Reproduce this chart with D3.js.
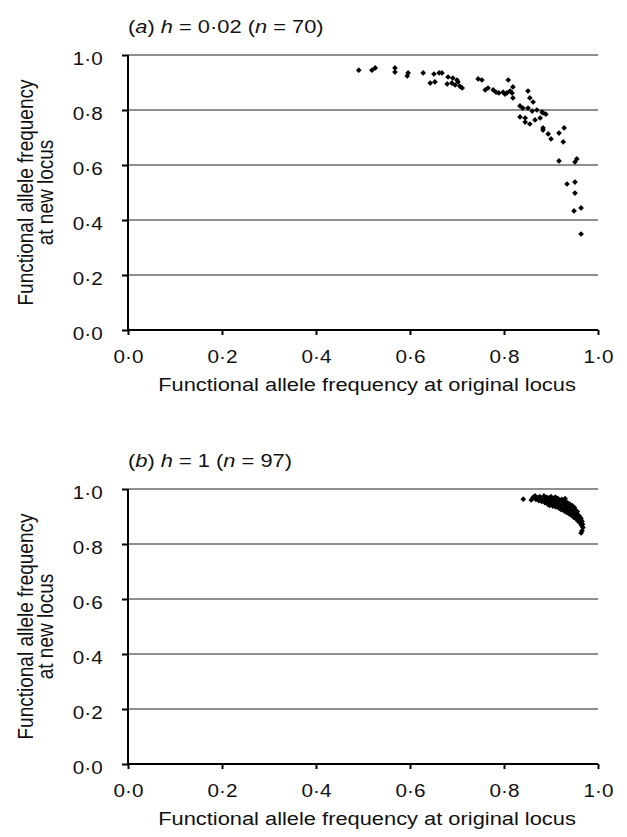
<!DOCTYPE html>
<html>
<head>
<meta charset="utf-8">
<script src="https://cdn.jsdelivr.net/npm/d3@7"></script>
<style>
  body { margin: 0; background: #fff; }
  svg text { font-family: "Liberation Sans", Arial, sans-serif; fill: #111; }
</style>
</head>
<body>
<svg id="chart" width="627" height="837"></svg>
<script>
// tick values shared by both panels
const tickValues = [0, 0.2, 0.4, 0.6, 0.8, 1.0];

// panel (a): h = 0.02, n = 70  [original locus, new locus]
const panelAOriginal = [0.491, 0.519, 0.526, 0.568, 0.568, 0.596, 0.594, 0.628, 0.651, 0.662,
  0.643, 0.653, 0.668, 0.681, 0.691, 0.700, 0.702, 0.679, 0.689, 0.696,
  0.711, 0.745, 0.753, 0.760, 0.777, 0.783, 0.789, 0.798, 0.802, 0.809,
  0.819, 0.813, 0.806, 0.817, 0.819, 0.851, 0.855, 0.862, 0.834, 0.840,
  0.851, 0.860, 0.870, 0.881, 0.883, 0.889, 0.834, 0.845, 0.845, 0.866,
  0.877, 0.855, 0.883, 0.883, 0.894, 0.900, 0.917, 0.928, 0.926, 0.917,
  0.951, 0.955, 0.934, 0.951, 0.951, 0.949, 0.964, 0.964, 0.706, 0.766];
const panelANew = [0.945, 0.945, 0.953, 0.953, 0.938, 0.935, 0.924, 0.935, 0.931, 0.935,
  0.898, 0.902, 0.935, 0.920, 0.916, 0.909, 0.902, 0.895, 0.898, 0.891,
  0.880, 0.913, 0.909, 0.873, 0.873, 0.865, 0.862, 0.865, 0.858, 0.909,
  0.884, 0.869, 0.862, 0.862, 0.844, 0.869, 0.844, 0.829, 0.815, 0.807,
  0.807, 0.796, 0.800, 0.793, 0.789, 0.785, 0.775, 0.771, 0.756, 0.764,
  0.771, 0.749, 0.735, 0.727, 0.713, 0.695, 0.716, 0.735, 0.684, 0.615,
  0.611, 0.622, 0.531, 0.538, 0.498, 0.433, 0.444, 0.349, 0.887, 0.880];

// panel (b): h = 1, n = 97
const panelBOriginal = [0.841, 0.858, 0.862, 0.866, 0.868, 0.871, 0.874, 0.876, 0.878, 0.880,
  0.882, 0.884, 0.885, 0.887, 0.888, 0.890, 0.891, 0.893, 0.894, 0.895,
  0.896, 0.897, 0.898, 0.899, 0.900, 0.901, 0.902, 0.903, 0.904, 0.905,
  0.906, 0.907, 0.908, 0.909, 0.910, 0.911, 0.912, 0.913, 0.914, 0.915,
  0.916, 0.917, 0.918, 0.919, 0.920, 0.921, 0.922, 0.923, 0.924, 0.925,
  0.926, 0.927, 0.928, 0.929, 0.930, 0.931, 0.932, 0.933, 0.934, 0.935,
  0.936, 0.937, 0.938, 0.939, 0.940, 0.941, 0.942, 0.943, 0.944, 0.945,
  0.946, 0.947, 0.948, 0.949, 0.950, 0.951, 0.952, 0.953, 0.954, 0.955,
  0.956, 0.957, 0.958, 0.959, 0.960, 0.961, 0.962, 0.963, 0.964, 0.965,
  0.966, 0.967, 0.968, 0.966, 0.964, 0.930, 0.910];
const panelBNew = [0.963, 0.960, 0.970, 0.975, 0.962, 0.968, 0.958, 0.972, 0.965, 0.955,
  0.968, 0.960, 0.975, 0.950, 0.965, 0.958, 0.970, 0.945, 0.962, 0.955,
  0.968, 0.940, 0.950, 0.960, 0.972, 0.945, 0.955, 0.965, 0.938, 0.950,
  0.960, 0.968, 0.945, 0.955, 0.935, 0.962, 0.948, 0.958, 0.940, 0.965,
  0.952, 0.930, 0.945, 0.958, 0.938, 0.950, 0.925, 0.962, 0.942, 0.955,
  0.932, 0.948, 0.920, 0.940, 0.955, 0.928, 0.945, 0.915, 0.935, 0.950,
  0.922, 0.940, 0.910, 0.930, 0.945, 0.918, 0.935, 0.905, 0.925, 0.940,
  0.912, 0.928, 0.898, 0.918, 0.932, 0.905, 0.922, 0.892, 0.912, 0.900,
  0.918, 0.885, 0.905, 0.895, 0.880, 0.900, 0.888, 0.875, 0.892, 0.868,
  0.882, 0.872, 0.860, 0.848, 0.840, 0.965, 0.970];

const panels = [
  { label: "a", h: "0·02", n: 70, xs: panelAOriginal, ys: panelANew, top: 55 },
  { label: "b", h: "1", n: 97, xs: panelBOriginal, ys: panelBNew, top: 489 }
];

const svg = d3.select("#chart");
const left = 128, plotW = 470, plotH = 275;
const stretch = 1.15; // the source lettering is a bit wider than Liberation Sans
const fmt = (d) => d.toFixed(1).replace(".", "·");

const x = d3.scaleLinear().domain([0, 1]).range([left, left + plotW]);

panels.forEach((p) => {
  const y = d3.scaleLinear().domain([0, 1]).range([p.top + plotH, p.top]);
  const g = svg.append("g");

  // gridlines
  g.selectAll("line.grid")
    .data(tickValues.slice(1))
    .enter()
    .append("line")
    .attr("class", "grid")
    .attr("x1", x(0))
    .attr("x2", x(1))
    .attr("y1", (d) => y(d))
    .attr("y2", (d) => y(d))
    .attr("stroke", "#8f8f8f")
    .attr("stroke-width", 2);

  // y axis
  const yAxis = g.append("g")
    .attr("transform", `translate(${left},0)`)
    .call(d3.axisLeft(y).tickValues(tickValues).tickFormat(fmt).tickSize(6).tickPadding(16));

  // x axis
  const xAxis = g.append("g")
    .attr("transform", `translate(0,${p.top + plotH})`)
    .call(d3.axisBottom(x).tickValues(tickValues).tickFormat(fmt).tickSize(5).tickPadding(15));

  [yAxis, xAxis].forEach((a) => {
    a.attr("font-size", 18).attr("font-family", "Liberation Sans, Arial, sans-serif");
    a.select(".domain").attr("stroke", "#000").attr("stroke-width", 2);
    a.selectAll(".tick line").attr("stroke", "#000").attr("stroke-width", 2);
    a.selectAll(".tick text").attr("fill", "#111").attr("transform", `scale(${stretch},1)`);
  });
  yAxis.selectAll(".tick text").attr("dy", "0.55em");
  yAxis.select(".domain").attr("d", `M0,${p.top}V${p.top + plotH}`);
  xAxis.select(".domain").attr("d", `M${x(0)},0H${x(1)}`);

  // points
  const pts = p.xs.map((v, i) => [v, p.ys[i]]);
  g.selectAll("path.pt")
    .data(pts)
    .enter()
    .append("path")
    .attr("class", "pt")
    .attr("d", d3.symbol(d3.symbolSquare, 16))
    .attr("transform", (d) => `translate(${x(d[0])},${y(d[1])}) rotate(45)`)
    .attr("fill", "#000");

  // panel title
  const t = g.append("text")
    .attr("transform", `translate(${left},${p.top - 22}) scale(${stretch},1)`)
    .attr("font-size", 19);
  t.append("tspan").text("(");
  t.append("tspan").attr("font-style", "italic").text(p.label);
  t.append("tspan").text(") ");
  t.append("tspan").attr("font-style", "italic").text("h");
  t.append("tspan").text(` = ${p.h} (`);
  t.append("tspan").attr("font-style", "italic").text("n");
  t.append("tspan").text(` = ${p.n})`);

  // axis titles
  g.append("text")
    .attr("transform", `translate(${x(0.5) + 4},${p.top + plotH + 61}) scale(${stretch},1)`)
    .attr("text-anchor", "middle")
    .attr("font-size", 19)
    .text("Functional allele frequency at original locus");

  const yt = g.append("text")
    .attr("transform", `translate(33,${p.top + plotH / 2}) scale(${stretch},1) rotate(-90)`)
    .attr("text-anchor", "middle")
    .attr("font-size", 19);
  yt.append("tspan").attr("x", 0).attr("y", 0).text("Functional allele frequency");
  yt.append("tspan").attr("x", 0).attr("y", 17).text("at new locus");
});
</script>
</body>
</html>
